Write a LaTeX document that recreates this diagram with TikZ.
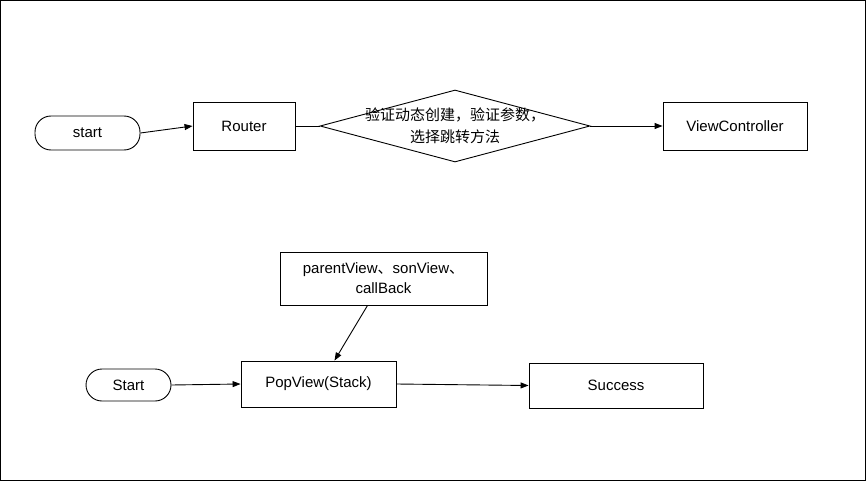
\documentclass[tikz,border=0pt]{standalone}
\usepackage{fontspec}
\setmainfont{Liberation Sans}
\newfontfamily\cjk{Noto Sans CJK SC}
\usetikzlibrary{shapes.geometric,arrows.meta}

\begin{document}
\begin{tikzpicture}[x=1pt, y=-1pt, line width=0.9pt,
    font=\fontsize{15}{20}\selectfont,
    box/.style={rectangle, draw, align=center, inner sep=0pt},
    term/.style={rectangle, draw, rounded corners=16pt, inner sep=0pt},
    choice/.style={diamond, draw, inner sep=0pt,
      minimum width=270pt, minimum height=72pt},
    flow/.style={-{Triangle[length=8pt, width=6pt]}}]

\useasboundingbox (0,0) rectangle (866,481);
\draw[line width=1pt] (0.5,0.5) rectangle (865.5,480.5);

% first flow
\node[term, minimum width=105pt, minimum height=34pt]
(start) at (87.5, 133) {start};

\node[box, minimum width=102pt, minimum height=48pt]
(router) at (244, 126) {Router};

\node[choice,
      label={[align=center, font=\cjk\fontsize{15}{22}\selectfont]center:验证动态创建，验证参数，\\选择跳转方法}]
(check) at (455, 126) {};

\node[box, minimum width=144pt, minimum height=48pt]
(vc) at (735, 126) {ViewController};

\draw[flow] (start.east) -- (router.west);
\draw (router.east) -- (check.west);
\draw[flow] (check.east) -- (vc.west);

% second flow
\node[box, minimum width=207pt, minimum height=53pt]
(params) at (383.5, 278.5) {parentView{\cjk 、}sonView{\cjk 、}\\callBack};

\node[box, minimum width=155pt, minimum height=46pt]
(pop) at (318.5, 384) {PopView(Stack)};

\node[term, minimum width=85pt, minimum height=32pt]
(Start) at (128.5, 385) {Start};

\node[box, minimum width=174pt, minimum height=45pt]
(done) at (616, 385.5) {Success};

\draw[flow] ([xshift=-16pt]params.south) -- ([xshift=16pt]pop.north);
\draw[flow] (Start.east) -- (pop.west);
\draw[flow] (pop.east) -- (done.west);

\end{tikzpicture}
\end{document}
